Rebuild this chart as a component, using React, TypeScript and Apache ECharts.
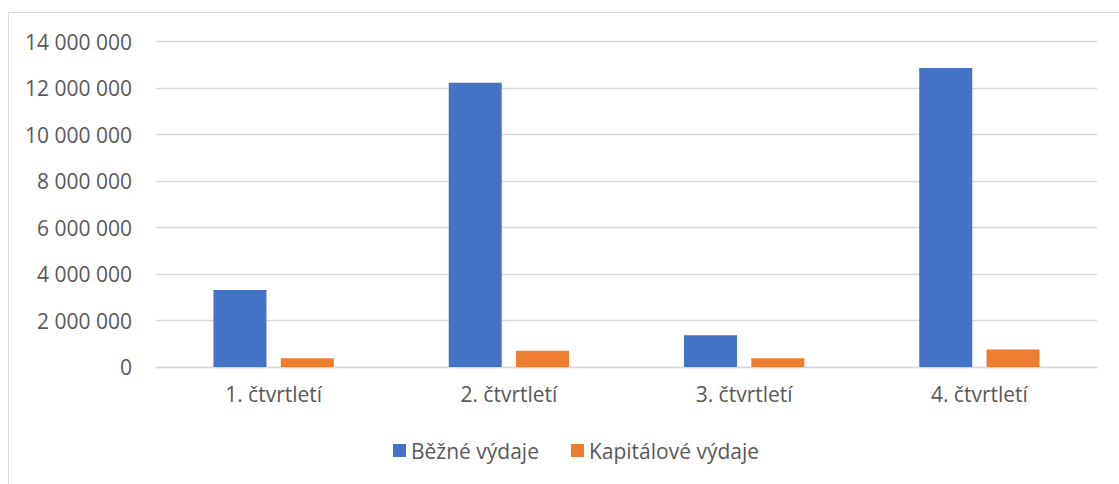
import React, { useEffect, useRef } from "react";
import * as echarts from "echarts";

const categories = ["1. čtvrtletí", "2. čtvrtletí", "3. čtvrtletí", "4. čtvrtletí"];
const seriesNames = ["Běžné výdaje", "Kapitálové výdaje"];
const bezneVydaje = [3310000, 12230000, 1370000, 12870000];
const kapitaloveVydaje = [375000, 700000, 375000, 750000];
const colors = ["#4472C4", "#ED7D31"];

const fmt = (v: number) => String(Math.round(v)).replace(/\B(?=(\d{3})+(?!\d))/g, " ");

export default function App() {
  const ref = useRef<HTMLDivElement>(null);
  useEffect(() => {
    if (!ref.current) return;
    const chart = echarts.init(ref.current, null, { renderer: "svg" });
    const font = "'Open Sans', sans-serif";
    chart.setOption({
      animation: false,
      backgroundColor: "#ffffff",
      textStyle: { fontFamily: font },
      graphic: [
        {
          type: "rect",
          shape: { x: 8.5, y: 12.5, width: 1200, height: 600 },
          style: { fill: "none", stroke: "#d9d9d9", lineWidth: 1 },
          silent: true,
        },
      ],
      grid: { left: 156, right: 22, top: 41.7, bottom: 117, containLabel: false },
      legend: {
        data: seriesNames,
        bottom: 18,
        left: 388,
        itemWidth: 13,
        itemHeight: 13,
        itemGap: 32,
        icon: "rect",
        textStyle: { color: "#595959", fontSize: 21, fontFamily: font },
      },
      xAxis: {
        type: "category",
        data: categories,
        axisLine: { show: true, lineStyle: { color: "#d9d9d9", width: 1.3 } },
        axisTick: { show: false },
        axisLabel: { color: "#595959", fontSize: 21, margin: 16, fontFamily: font },
      },
      yAxis: {
        type: "value",
        min: 0,
        max: 14000000,
        interval: 2000000,
        axisLine: { show: false },
        axisTick: { show: false },
        splitLine: { lineStyle: { color: "#d9d9d9", width: 1.3 } },
        axisLabel: { color: "#595959", fontSize: 21, margin: 24, fontFamily: font, formatter: fmt },
      },
      series: [
        {
          name: seriesNames[0],
          type: "bar",
          data: bezneVydaje,
          barWidth: 53,
          barGap: "27%",
          itemStyle: { color: colors[0] },
        },
        {
          name: seriesNames[1],
          type: "bar",
          data: kapitaloveVydaje,
          barWidth: 53,
          barGap: "27%",
          itemStyle: { color: colors[1] },
        },
      ],
    });
    return () => chart.dispose();
  }, []);
  return (
    <div
      ref={ref}
      style={{ position: "fixed", left: 0, top: 0, width: 1119, height: 484 }}
    />
  );
}
